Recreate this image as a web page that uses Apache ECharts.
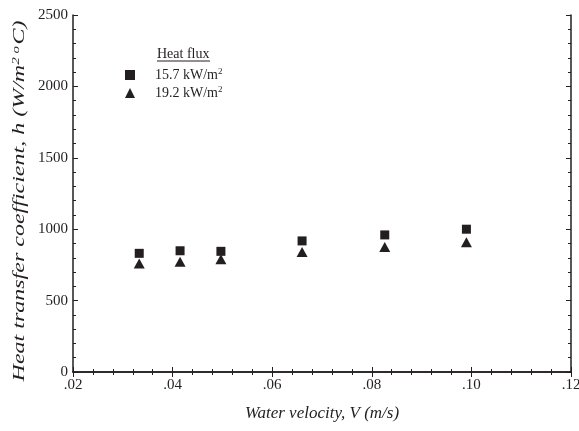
<!DOCTYPE html>
<html>
<head>
<meta charset="utf-8">
<script src="https://cdn.jsdelivr.net/npm/echarts@6/dist/echarts.min.js"></script>
<style>
  html, body { margin: 0; padding: 0; background: #fff; }
  #chart { width: 579px; height: 431px; }
</style>
</head>
<body>
<div id="chart"></div>
<script>
// 数据
var velocity = [0.0333, 0.0415, 0.0497, 0.0660, 0.0826, 0.0990]
var flux157 = [831, 849, 845, 918, 960, 1000]
var flux192 = [760, 772, 789, 840, 876, 908]
var seriesNames = ['15.7 kW/m2', '19.2 kW/m2']

var font = 'Liberation Serif'
var ink = '#231f20'

function pairs(xs, ys) {
  return xs.map(function(x, i) { return [x, ys[i]] })
}

var chart = echarts.init(document.getElementById('chart'))

var xBase = {
  type: 'value',
  min: 0.02,
  max: 0.12,
  interval: 0.02,
  splitLine: { show: false },
  axisLine: { lineStyle: { color: ink, width: 1.5 } },
  axisTick: { inside: true, length: 5, lineStyle: { color: ink } },
  minorTick: { show: true, splitNumber: 5, length: 3, lineStyle: { color: ink } }
}
var yBase = {
  type: 'value',
  min: 0,
  max: 2500,
  interval: 500,
  splitLine: { show: false },
  axisLine: { lineStyle: { color: ink, width: 1.5 } },
  axisTick: { inside: true, length: 5, lineStyle: { color: ink } },
  minorTick: { show: true, splitNumber: 5, length: 3, lineStyle: { color: ink } }
}

var option = {
  animation: false,
  textStyle: { fontFamily: font },
  grid: { left: 73, right: 8, top: 15, bottom: 59, outerBoundsMode: 'none' },
  xAxis: [
    Object.assign({}, xBase, {
      position: 'bottom',
      name: 'Water velocity, V (m/s)',
      nameLocation: 'middle',
      nameGap: 33,
      nameTextStyle: { fontFamily: font, fontStyle: 'italic', fontSize: 17, color: ink },
      axisLabel: {
        fontFamily: font, fontSize: 15, color: ink, margin: 6,
        formatter: function(v) { return v.toFixed(2).replace(/^0/, '') }
      }
    }),
    Object.assign({}, xBase, { position: 'top', axisLabel: { show: false } })
  ],
  yAxis: [
    Object.assign({}, yBase, {
      position: 'left',
      axisLabel: {
        fontFamily: font, fontSize: 15, color: ink, margin: 5,
        formatter: function(v) { return String(v) }
      }
    }),
    Object.assign({}, yBase, { position: 'right', axisLabel: { show: false } })
  ],
  legend: {
    orient: 'vertical',
    left: 125,
    top: 67,
    padding: 0,
    itemWidth: 10,
    itemHeight: 10,
    itemGap: 3,
    data: [
      { name: seriesNames[0], icon: 'rect' },
      { name: seriesNames[1], icon: 'triangle' }
    ],
    formatter: function(name) { return name.replace('m2', 'm{sup|2}') },
    textStyle: {
      fontFamily: font, fontSize: 14, color: ink, padding: [0, 0, 0, 15],
      rich: {
        sup: { fontFamily: font, fontSize: 9, color: ink, verticalAlign: 'top', padding: [0, 0, 7, 0] }
      }
    }
  },
  graphic: [
    {
      type: 'text',
      left: 157,
      top: 47,
      style: { text: 'Heat flux', fontFamily: font, fontSize: 14, fill: ink }
    },
    {
      type: 'line',
      shape: { x1: 157, y1: 61, x2: 210, y2: 61 },
      style: { stroke: ink, lineWidth: 1 }
    },
    {
      // y 轴标题（原图沿长度方向被拉伸）
      type: 'text',
      x: 20,
      y: 201,
      rotation: Math.PI / 2,
      scaleX: 1.5,
      style: {
        text: 'Heat transfer coefficient, h (W/m{sup|2 o}C)',
        fontFamily: font, fontStyle: 'italic', fontSize: 16, fill: ink,
        align: 'center', verticalAlign: 'middle',
        rich: {
          sup: { fontFamily: font, fontStyle: 'italic', fontSize: 10, fill: ink, verticalAlign: 'top', padding: [0, 1, 7, 0] }
        }
      }
    }
  ],
  series: [
    {
      name: seriesNames[0],
      type: 'scatter',
      symbol: 'rect',
      symbolSize: 9,
      itemStyle: { color: ink, opacity: 1 },
      data: pairs(velocity, flux157)
    },
    {
      name: seriesNames[1],
      type: 'scatter',
      symbol: 'triangle',
      symbolSize: [11, 10],
      itemStyle: { color: ink, opacity: 1 },
      data: pairs(velocity, flux192)
    }
  ]
}

chart.setOption(option)
window.addEventListener('resize', function() {
  chart.resize()
})
</script>
</body>
</html>
